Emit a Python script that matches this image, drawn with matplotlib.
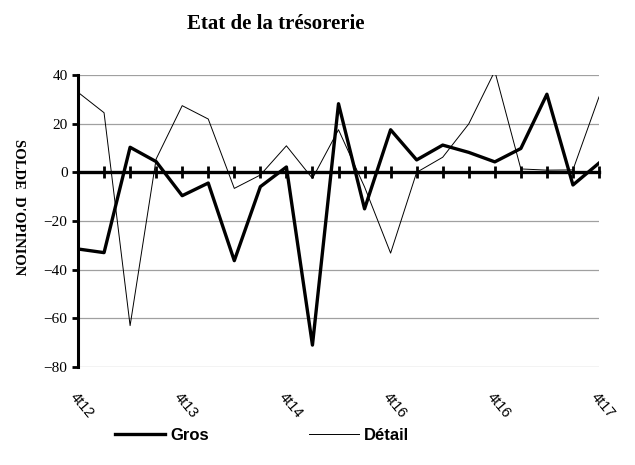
import numpy as np
import matplotlib.pyplot as plt

# trimestres 4t12 .. 4t17
quarters = np.arange(21)
tick_pos = [0, 4, 8, 12, 16, 20]
tick_labels = ['4t12', '4t13', '4t14', '4t16', '4t16', '4t17']

gros = [-31.5, -33, 10.3, 4.4, -9.6, -4.4, -36.3, -5.9, 2.2, -71, 28.2,
        -15, 17.5, 5.1, 11.2, 8.2, 4.3, 9.8, 32.1, -5.2, 3.8]
detail = [32.9, 24.5, -63, 5.5, 27.4, 21.9, -6.6, -1.1, 10.9, -2.5, 17.5,
          -6, -33.2, 0, 6.2, 19.9, 41.6, 1.4, 0.9, 1.0, 31]

serif = 'Liberation Serif'
sans = 'Liberation Sans'

fig = plt.figure(figsize=(6.35, 4.65), dpi=100)
ax = fig.add_axes([78 / 635, 1 - 367 / 465, 521 / 635, 292 / 465])

for y in range(-80, 41, 20):
    ax.axhline(y, color='#a0a0a0', lw=0.9, zorder=1)

ax.plot(quarters, detail, color='black', lw=0.7, label='Détail', zorder=3)
ax.plot(quarters, gros, color='black', lw=2.4, label='Gros', zorder=4)

ax.set_xlim(0, 20)
ax.set_ylim(-80, 40)

ax.spines['top'].set_visible(False)
ax.spines['right'].set_visible(False)
ax.spines['left'].set_linewidth(2.2)
ax.spines['bottom'].set_position(('data', 0))
ax.spines['bottom'].set_linewidth(2.4)
ax.spines['bottom'].set_zorder(5)

ax.set_xticks(quarters)
ax.set_xticklabels([])
ax.tick_params(axis='x', direction='inout', length=8, width=2)
ax.set_yticks(range(-80, 41, 20))
ax.tick_params(axis='y', direction='out', length=4, width=2)
for lab in ax.get_yticklabels():
    lab.set_fontfamily(serif)
    lab.set_fontsize(11)

xt = ax.get_xaxis_transform()
for p, lab in zip(tick_pos, tick_labels):
    ax.text(p - 0.2, -0.095, lab, transform=xt, rotation=-50, rotation_mode='anchor',
            ha='left', va='center', fontsize=10.5, family=sans)

fig.text(276 / 635, 1 - 24 / 465, 'Etat de la trésorerie', ha='center', va='center',
         fontsize=15, fontweight='bold', family=serif)
fig.text(18 / 635, 1 - 207 / 465, "SOLDE  D'OPINION", rotation=270, ha='center',
         va='center', fontsize=10.5, fontweight='bold', family=serif)

handles, labels = ax.get_legend_handles_labels()
leg = fig.legend(handles[::-1], labels[::-1], loc='center', ncol=2,
                 bbox_to_anchor=(262 / 635, 1 - 435 / 465), frameon=False,
                 handlelength=3.0, columnspacing=6, handletextpad=0.3,
                 prop={'family': sans, 'weight': 'bold', 'size': 12})

fig.savefig('out.png', dpi=100)
